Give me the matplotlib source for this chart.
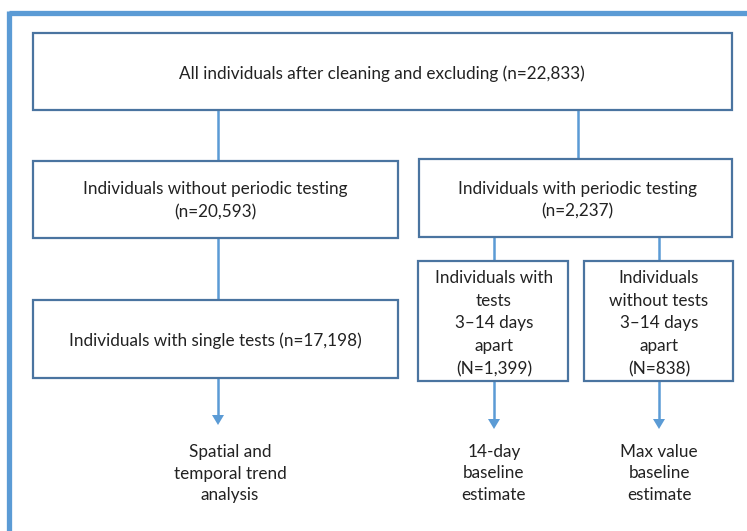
import matplotlib
matplotlib.use("Agg")
import matplotlib.pyplot as plt
from matplotlib.patches import Rectangle

plt.rcParams['font.family'] = ['Lato', 'DejaVu Sans']

# ---- content ----
box_texts = [
    "All individuals after cleaning and excluding (n=22,833)",
    "Individuals without periodic testing\n(n=20,593)",
    "Individuals with periodic testing\n(n=2,237)",
    "Individuals with single tests (n=17,198)",
    "Individuals with\ntests\n3\u201314 days\napart\n(N=1,399)",
    "Individuals\nwithout tests\n3\u201314 days\napart\n(N=838)",
]
outcome_texts = [
    "Spatial and\ntemporal trend\nanalysis",
    "14-day\nbaseline\nestimate",
    "Max value\nbaseline\nestimate",
]

# ---- layout (pixel coordinates: x0, y0, x1, y1) ----
box_rects = [
    (33, 33, 732, 110),
    (33, 161, 398, 238),
    (419, 159, 732, 237),
    (33, 300, 398, 378),
    (418, 261, 568, 381),
    (584, 261, 733, 381),
]
box_text_y = [74, 201, 200.5, 341, 323.5, 323.5]
box_text_x = [382, 215, 577, 215, 494, 659]
line_spacing = [1.3, 1.58, 1.47, 1.3, 1.53, 1.53]

connectors = [  # x, y0, y1
    (218, 110, 161),
    (578, 110, 159),
    (218, 238, 300),
    (494, 237, 261),
    (659, 237, 261),
]
arrows = [  # x, y0, y1
    (218, 378, 425),
    (494, 381, 429),
    (659, 381, 429),
]
outcome_pos = [(230, 473.5), (494, 473.5), (659, 473.5)]

W, H = 747, 531
fig = plt.figure(figsize=(W / 100, H / 100), dpi=100)
ax = fig.add_axes([0, 0, 1, 1])
ax.set_xlim(0, W)
ax.set_ylim(H, 0)
ax.axis('off')

frame_c = '#5b9bd5'
edge_c = '#4a74a0'
text_c = '#222222'
fs = 12.3

# outer frame (top and left visible)
ax.plot([8.5, W + 5], [12.5, 12.5], color=frame_c, lw=3.8, solid_capstyle='butt')
ax.plot([8.5, 8.5], [10.5, H + 5], color=frame_c, lw=3.8, solid_capstyle='butt')

for (x0, y0, x1, y1) in box_rects:
    ax.add_patch(Rectangle((x0, y0), x1 - x0, y1 - y0, facecolor='white',
                           edgecolor=edge_c, lw=1.6, zorder=2))

for txt, x, y, ls in zip(box_texts, box_text_x, box_text_y, line_spacing):
    ax.text(x, y, txt, ha='center', va='center', fontsize=fs, color=text_c,
            linespacing=ls, zorder=3)

for x, y0, y1 in connectors:
    ax.plot([x, x], [y0, y1], color=frame_c, lw=1.8, zorder=1)

for x, y0, y1 in arrows:
    ax.plot([x, x], [y0, y1 - 8], color=frame_c, lw=1.8, zorder=1)
    ax.add_patch(plt.Polygon([[x - 6, y1 - 10], [x + 6, y1 - 10], [x, y1]],
                             closed=True, facecolor=frame_c, edgecolor='none'))

for txt, (x, y) in zip(outcome_texts, outcome_pos):
    ax.text(x, y, txt, ha='center', va='center', fontsize=fs, color=text_c,
            linespacing=1.46)

fig.savefig('out.png', dpi=100)
